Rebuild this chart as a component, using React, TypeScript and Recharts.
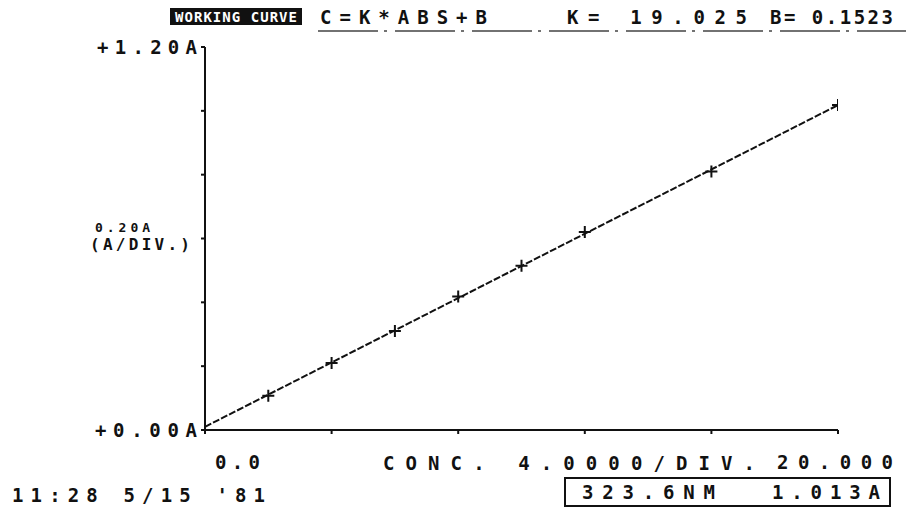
import React from "react";
import { ComposedChart, Line, Scatter, XAxis, YAxis } from "recharts";

// standards (concentration vs absorbance)
const CONC = [2, 4, 6, 8, 10, 12, 16, 20];
const ABS = [0.107, 0.21, 0.31, 0.418, 0.515, 0.62, 0.81, 1.018];

// ends of the drawn working curve
const FIT_CONC = [0, 20];
const FIT_ABS = [0.01, 1.018];

const X_TICKS = [0, 4, 8, 12, 16, 20];
const Y_TICKS = [0, 0.2, 0.4, 0.6, 0.8, 1.0, 1.2];

const points = CONC.map((c, i) => ({ conc: c, abs: ABS[i] }));
const fit = FIT_CONC.map((c, i) => ({ conc: c, abs: FIT_ABS[i] }));

const FONT = "'DejaVu Sans Mono', monospace";
const INK = "#111";

const Cross = (props: any) => {
    const { cx, cy } = props;
    if (cx == null || cy == null) return null;
    return (
        <path
            d={`M${cx - 6},${cy} H${cx + 6} M${cx},${cy - 6} V${cy + 6}`}
            stroke={INK}
            strokeWidth={2}
        />
    );
};

const T = ({ x, y, w, children, anchor = "start", fill = INK, size = 19 }: any) => (
    <text
        x={x}
        y={y}
        textLength={w}
        lengthAdjust="spacing"
        textAnchor={anchor}
        fontFamily={FONT}
        fontWeight="bold"
        fontSize={size}
        fill={fill}
    >
        {children}
    </text>
);

const XTick = (props: any) => {
    const { x, y, payload } = props;
    if (payload.value === 0) return <T x={x + 10} y={y + 33} w={45}>0.0</T>;
    if (payload.value === 20) return <T x={x - 61} y={y + 33} w={116}>20.000</T>;
    return null;
};

const YTick = (props: any) => {
    const { x, y, payload } = props;
    if (payload.value === 0) return <T x={x - 104} y={y + 7} w={102}>+0.00A</T>;
    if (payload.value === 1.2) return <T x={x - 102} y={y + 7} w={100}>+1.20A</T>;
    return null;
};

export default function App() {
    return (
        <div style={{ position: "absolute", left: 0, top: 0, width: 907, height: 508, background: "#fff" }}>
            <ComposedChart width={907} height={508} margin={{ top: 47, right: 69, left: 0, bottom: 0 }}>
                <XAxis
                    type="number"
                    dataKey="conc"
                    domain={[0, 20]}
                    ticks={X_TICKS}
                    interval={0}
                    height={78}
                    stroke={INK}
                    strokeWidth={2}
                    tickSize={4}
                    tick={<XTick />}
                    allowDataOverflow
                />
                <YAxis
                    type="number"
                    dataKey="abs"
                    domain={[0, 1.2]}
                    ticks={Y_TICKS}
                    interval={0}
                    width={205}
                    stroke={INK}
                    strokeWidth={2}
                    tickSize={4}
                    tick={<YTick />}
                    allowDataOverflow
                />
                <Line
                    data={fit}
                    dataKey="abs"
                    type="linear"
                    stroke={INK}
                    strokeWidth={2}
                    strokeDasharray="7 2"
                    dot={false}
                    isAnimationActive={false}
                />
                <Scatter data={points} dataKey="abs" shape={<Cross />} isAnimationActive={false} />
            </ComposedChart>

            <svg width={907} height={508} style={{ position: "absolute", left: 0, top: 0, pointerEvents: "none" }}>
                <rect x={170} y={8} width={132} height={17} fill={INK} />
                <T x={175} y={22} w={122} fill="#fff" size={14}>WORKING CURVE</T>
                <T x={320} y={24} w={167}>C=K*ABS+B</T>
                <T x={567} y={24} w={180}>K= 19.025</T>
                <T x={770} y={24} w={123}>B= 0.1523</T>
                <line x1={318} y1={31} x2={906} y2={31} stroke="#444" strokeWidth={1.5} strokeDasharray="60 6 3 8" />

                <T x={95} y={232} w={55} size={13}>0.20A</T>
                <T x={90} y={250} w={100} size={16}>(A/DIV.)</T>

                <T x={383} y={470} w={372}>CONC. 4.0000/DIV.</T>

                <T x={12} y={502} w={253}>11:28  5/15 '81</T>
                <rect x={565} y={478} width={325} height={28} fill="none" stroke={INK} strokeWidth={2} />
                <T x={582} y={499} w={133}>323.6NM</T>
                <T x={772} y={499} w={108}>1.013A</T>
            </svg>
        </div>
    );
}
